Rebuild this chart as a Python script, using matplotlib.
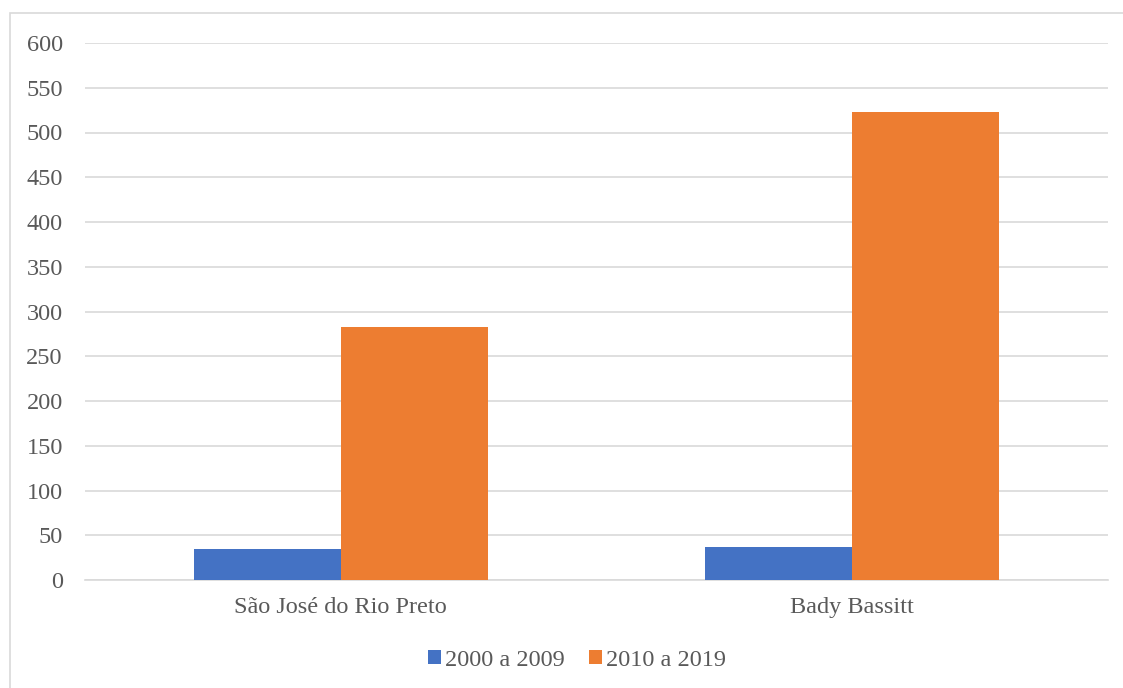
import matplotlib.pyplot as plt
import numpy as np
from matplotlib.patches import Rectangle

plt.rcParams['font.family'] = ['Liberation Serif', 'DejaVu Serif']

# Data
cities = ['São José do Rio Preto', 'Bady Bassitt']
series_names = ['2000 a 2009', '2010 a 2019']
vals_2000 = [35, 37]
vals_2010 = [283, 523]
colors = ['#4472C4', '#ED7D31']
text_color = '#595959'

fig = plt.figure(figsize=(11.23, 6.88), dpi=100)
ax = fig.add_axes([85 / 1123, 1 - 580 / 688, 1023 / 1123, 537 / 688])

x = np.arange(len(cities))
w = 0.287
ax.bar(x - w / 2, vals_2000, w, color=colors[0], label=series_names[0], zorder=3)
ax.bar(x + w / 2, vals_2010, w, color=colors[1], label=series_names[1], zorder=3)

ax.set_xlim(-0.5, 1.5)
ax.set_ylim(0, 600)
ax.set_yticks(range(0, 601, 50))
ax.set_xticks(x)
ax.set_xticklabels(cities)
ax.grid(axis='y', color='#D9D9D9', linewidth=1.2, zorder=0)
for s in ['top', 'right', 'left']:
    ax.spines[s].set_visible(False)
ax.spines['bottom'].set_color('#D9D9D9')
ax.spines['bottom'].set_linewidth(1.2)
ax.tick_params(axis='both', length=0, labelsize=17.5, colors=text_color)
ax.tick_params(axis='x', pad=12)
ax.tick_params(axis='y', pad=16)

leg = fig.legend(loc='center', bbox_to_anchor=(577 / 1123, 1 - 660 / 688), ncol=2,
                 frameon=False, fontsize=17.5, handlelength=0.55, handleheight=0.55,
                 handletextpad=0.15, columnspacing=1.0)
for t in leg.get_texts():
    t.set_color(text_color)

# outer chart border (right/bottom edges fall off the picture)
fig.patches.append(Rectangle((10 / 1123, -0.01), 1.0, 1 - 13 / 688 + 0.01,
                             transform=fig.transFigure, fill=False,
                             edgecolor='#D9D9D9', linewidth=1.2))

plt.savefig('out.png', dpi=100)
